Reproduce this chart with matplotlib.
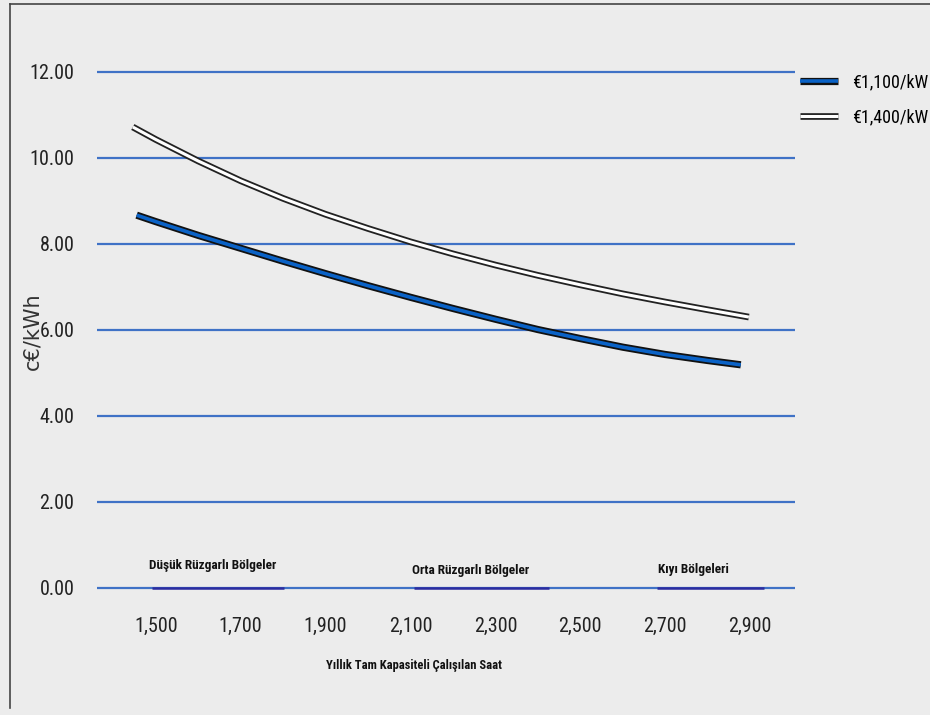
import matplotlib
matplotlib.use("Agg")
import matplotlib.pyplot as plt
from matplotlib import font_manager
from matplotlib.lines import Line2D
from matplotlib.legend_handler import HandlerTuple

# data
hours = [1455, 1500, 1600, 1700, 1800, 1900, 2000, 2100, 2200, 2300, 2400, 2500, 2600, 2700, 2800, 2878]
cost_1100 = [8.67, 8.52, 8.20, 7.90, 7.60, 7.31, 7.03, 6.76, 6.50, 6.25, 6.01, 5.80, 5.60, 5.43, 5.29, 5.19]

hours_1400 = [1446, 1500, 1600, 1700, 1800, 1900, 2000, 2100, 2200, 2300, 2400, 2500, 2600, 2700, 2800, 2897]
cost_1400 = [10.72, 10.43, 9.93, 9.47, 9.06, 8.69, 8.36, 8.05, 7.77, 7.51, 7.27, 7.05, 6.84, 6.65, 6.47, 6.30]

series_labels = ["€1,100/kW", "€1,400/kW"]

x_ticks = [1500, 1700, 1900, 2100, 2300, 2500, 2700, 2900]
x_ticklabels = ["1,500", "1,700", "1,900", "2,100", "2,300", "2,500", "2,700", "2,900"]
y_ticks = [0, 2, 4, 6, 8, 10, 12]
y_ticklabels = ["0.00", "2.00", "4.00", "6.00", "8.00", "10.00", "12.00"]

regions = ["Düşük Rüzgarlı Bölgeler", "Orta Rüzgarlı Bölgeler", "Kıyı Bölgeleri"]
region_start = [1491, 2109, 2681]
region_end = [1803, 2427, 2933]
region_label_x = [1634, 2241, 2766]
region_label_y = [0.53, 0.40, 0.44]

x_title = "Yıllık Tam Kapasiteli Çalışılan Saat"
y_title = "c€/kWh"

# fonts: a narrow sans if one is there
names = {f.name for f in font_manager.fontManager.ttflist}
narrow = "DejaVu Sans"
for cand in ["Liberation Sans Narrow", "Arial Narrow", "Roboto Condensed", "PT Sans Narrow",
             "Archivo Narrow", "Open Sans Condensed"]:
    if cand in names:
        narrow = cand
        break
plt.rcParams['font.family'] = [narrow, 'DejaVu Sans']

bg = "#ececec"
grid_blue = "#3f72c6"
navy = "#2c2ca0"

fig = plt.figure(figsize=(9.3, 7.15), dpi=100, facecolor=bg)
ax = fig.add_axes([0.104, 0.1476, 0.751, 0.7818], facecolor=bg)

ax.set_xlim(1361, 3006)
ax.set_ylim(-0.5, 12.5)
for s in ax.spines.values():
    s.set_visible(False)

ax.set_yticks(y_ticks)
ax.set_yticklabels(y_ticklabels)
ax.set_xticks(x_ticks)
ax.set_xticklabels(x_ticklabels)
ax.tick_params(axis='both', length=0, labelsize=14.5, colors='#222222')
ax.tick_params(axis='y', pad=16)
ax.tick_params(axis='x', pad=5)

for yv in y_ticks:
    ax.axhline(yv, color=grid_blue, lw=1.6, zorder=1)

# region markers on the zero line
for x0, x1 in zip(region_start, region_end):
    ax.plot([x0, x1], [0, 0], color=navy, lw=1.8, solid_capstyle='butt', zorder=2)
for name, xv, yv in zip(regions, region_label_x, region_label_y):
    ax.text(xv, yv, name, ha='center', va='center', fontsize=9.5,
            fontweight='bold', color='#111111')

# curves
b1, = ax.plot(hours, cost_1100, color='#111111', lw=5.2, solid_capstyle='butt', zorder=4)
f1, = ax.plot(hours, cost_1100, color='#0a62c6', lw=2.6, solid_capstyle='butt', zorder=5)
b2, = ax.plot(hours_1400, cost_1400, color='#222222', lw=4.8, solid_capstyle='butt', zorder=4)
f2, = ax.plot(hours_1400, cost_1400, color='white', lw=2.2, solid_capstyle='butt', zorder=5)

ax.legend([(b1, f1), (b2, f2)], series_labels,
          handler_map={tuple: HandlerTuple(ndivide=1, pad=0)},
          loc='upper left', bbox_to_anchor=(0.86, 0.897), bbox_transform=fig.transFigure,
          frameon=False, fontsize=13, handlelength=2.1, handletextpad=0.8,
          labelspacing=0.95, borderaxespad=0, borderpad=0)

fig.text(414 / 930, 1 - 665 / 715, x_title, ha='center', va='center',
         fontsize=9, fontweight='bold', color='#111111')
fig.text(32 / 930, 1 - 331 / 715, y_title, ha='center', va='center', rotation=90,
         fontsize=15, family='DejaVu Sans', color='#333333')

# outer frame
fig.add_artist(Line2D([10 / 930, 10 / 930], [0.01, 1 - 4 / 715], transform=fig.transFigure,
                      color='#444444', lw=1.2))
fig.add_artist(Line2D([10 / 930, 1.0], [1 - 4 / 715, 1 - 4 / 715], transform=fig.transFigure,
                      color='#444444', lw=1.2))

fig.savefig("out.png", dpi=100, facecolor=bg)
